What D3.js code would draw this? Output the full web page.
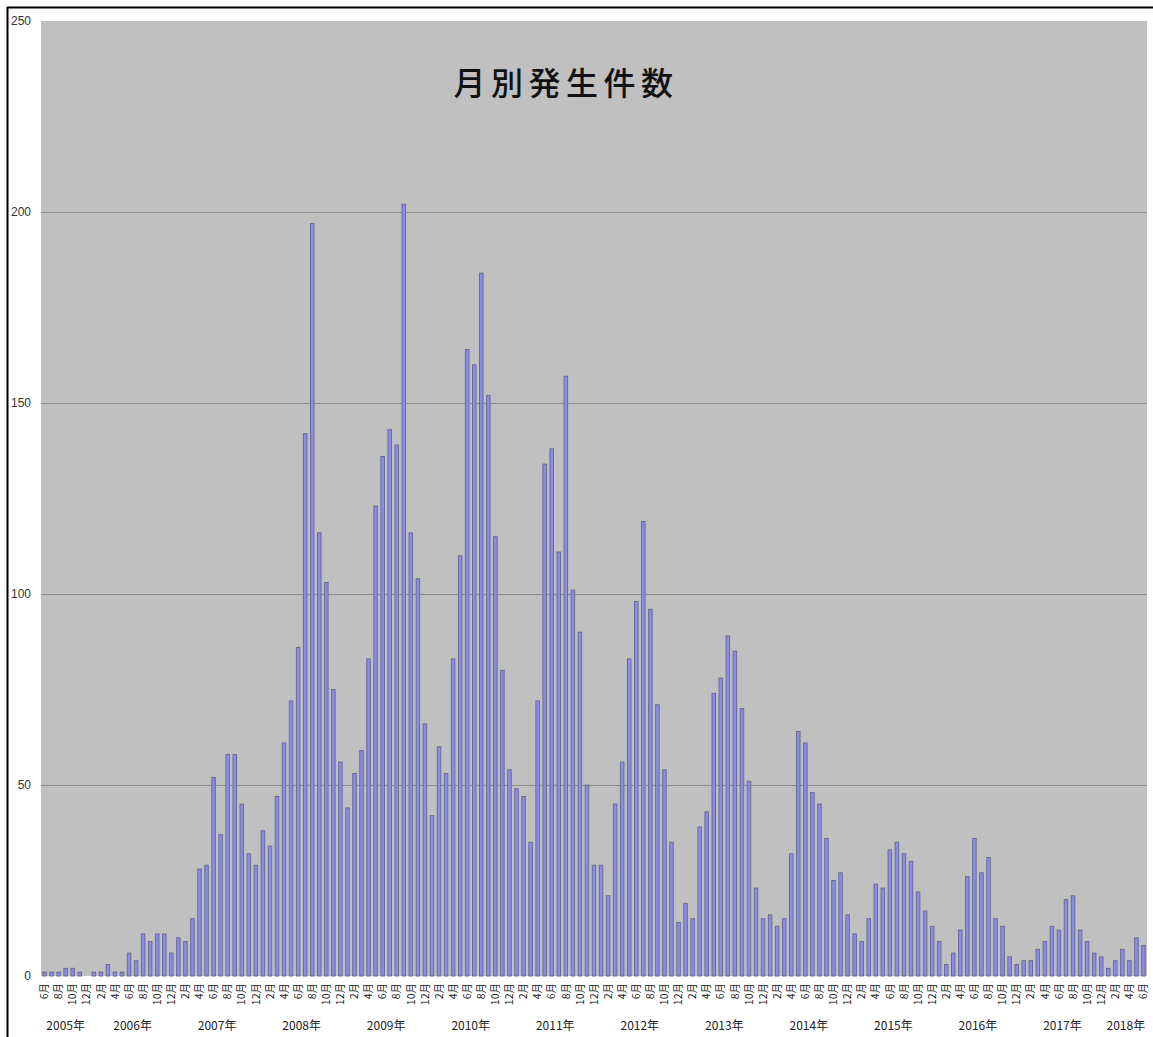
<!DOCTYPE html>
<html>
<head>
<meta charset="utf-8">
<script src="https://cdn.jsdelivr.net/npm/d3@7/dist/d3.min.js"></script>
<style>
  html, body { margin: 0; padding: 0; background: #fff; }
  svg { display: block; }
  text { font-family: "Noto Sans CJK JP", "Noto Sans", sans-serif; }
</style>
</head>
<body>
<svg id="chart" width="1153" height="1037"></svg>
<script>
// ---- Data ----
const title = "月別発生件数";
const startYear = 2005, startMonth = 6;          // first category: 2005年6月
const years = [2005, 2006, 2007, 2008, 2009, 2010, 2011, 2012, 2013, 2014, 2015, 2016, 2017, 2018];
const v2005 = [1, 1, 1, 2, 2, 1, 0];                            // Jun–Dec
const v2006 = [1, 1, 3, 1, 1, 6, 4, 11, 9, 11, 11, 6];
const v2007 = [10, 9, 15, 28, 29, 52, 37, 58, 58, 45, 32, 29];
const v2008 = [38, 34, 47, 61, 72, 86, 142, 197, 116, 103, 75, 56];
const v2009 = [44, 53, 59, 83, 123, 136, 143, 139, 202, 116, 104, 66];
const v2010 = [42, 60, 53, 83, 110, 164, 160, 184, 152, 115, 80, 54];
const v2011 = [49, 47, 35, 72, 134, 138, 111, 157, 101, 90, 50, 29];
const v2012 = [29, 21, 45, 56, 83, 98, 119, 96, 71, 54, 35, 14];
const v2013 = [19, 15, 39, 43, 74, 78, 89, 85, 70, 51, 23, 15];
const v2014 = [16, 13, 15, 32, 64, 61, 48, 45, 36, 25, 27, 16];
const v2015 = [11, 9, 15, 24, 23, 33, 35, 32, 30, 22, 17, 13];
const v2016 = [9, 3, 6, 12, 26, 36, 27, 31, 15, 13, 5, 3];
const v2017 = [4, 4, 7, 9, 13, 12, 20, 21, 12, 9, 6, 5];
const v2018 = [2, 4, 7, 4, 10, 8];                              // Jan–Jun
const yTicks = [0, 50, 100, 150, 200, 250];

// ---- Build category table ----
const valuesByYear = [v2005, v2006, v2007, v2008, v2009, v2010, v2011, v2012, v2013, v2014, v2015, v2016, v2017, v2018];
const data = [];
valuesByYear.forEach((arr, yi) => {
  const firstM = yi === 0 ? startMonth : 1;
  arr.forEach((v, k) => {
    data.push({ key: years[yi] + "-" + (firstM + k), year: years[yi], month: firstM + k, value: v });
  });
});

// ---- Layout ----
const svg = d3.select("#chart");
const plot = { left: 41, right: 1147, top: 21, bottom: 976 };

const x = d3.scaleBand()
  .domain(data.map(d => d.key))
  .range([plot.left, plot.right])
  .paddingInner(0.36)
  .paddingOuter(0.18);

const y = d3.scaleLinear().domain([0, 250]).range([plot.bottom, plot.top]);

// frame lines (black border, top + left)
svg.append("line").attr("x1", 7).attr("x2", 1153).attr("y1", 7.5).attr("y2", 7.5)
  .attr("stroke", "#000").attr("stroke-width", 2);
svg.append("line").attr("x1", 7.5).attr("x2", 7.5).attr("y1", 7).attr("y2", 1037)
  .attr("stroke", "#000").attr("stroke-width", 2);

// plot background
svg.append("rect")
  .attr("x", plot.left).attr("y", plot.top)
  .attr("width", plot.right - plot.left).attr("height", plot.bottom - plot.top)
  .attr("fill", "#c0c0c0");

// gridlines
svg.append("g").selectAll("line")
  .data(yTicks.filter(t => t > 0 && t < 250))
  .join("line")
  .attr("x1", plot.left).attr("x2", plot.right)
  .attr("y1", d => Math.round(y(d)) + 0.5).attr("y2", d => Math.round(y(d)) + 0.5)
  .attr("stroke", "#8a8a8a").attr("stroke-width", 1);

// y axis labels
const yAxis = d3.axisLeft(y).tickValues(yTicks).tickSize(0).tickPadding(0);
const gy = svg.append("g").attr("transform", "translate(31,0)").call(yAxis);
gy.select(".domain").remove();
gy.selectAll("text").attr("font-size", 12).attr("fill", "#333")
  .style("font-family", "'Liberation Sans', 'Noto Sans', sans-serif");

// bars
svg.append("g").selectAll("rect")
  .data(data.filter(d => d.value > 0))
  .join("rect")
  .attr("x", d => x(d.key) + 0.5)
  .attr("y", d => y(d.value))
  .attr("width", x.bandwidth() - 1)
  .attr("height", d => y(0) - y(d.value))
  .attr("fill", "#8c8cee")
  .attr("stroke", "#6a6a90")
  .attr("stroke-width", 1);

// month labels (every 2nd month), rotated
const xAxis = d3.axisBottom(x)
  .tickValues(data.filter((d, i) => i % 2 === 0).map(d => d.key))
  .tickFormat(k => data.find(d => d.key === k).month + "月")
  .tickSize(0);
const gx = svg.append("g").attr("transform", `translate(0,${plot.bottom})`).call(xAxis);
gx.select(".domain").remove();
gx.selectAll("text")
  .attr("font-size", 10.5)
  .attr("fill", "#222")
  .attr("text-anchor", "end")
  .attr("transform", "translate(0,7) rotate(-90)")
  .attr("x", 0).attr("y", 0).attr("dy", "0.35em");

// year labels centered under their months
const yearGroups = d3.groups(data, d => d.year);
svg.append("g").selectAll("text")
  .data(yearGroups)
  .join("text")
  .attr("x", g => (x(g[1][0].key) + x(g[1][g[1].length - 1].key) + x.bandwidth()) / 2)
  .attr("y", 1030)
  .attr("text-anchor", "middle")
  .attr("font-size", 12)
  .attr("fill", "#222")
  .text(g => g[0] + "年");

// title
svg.append("text")
  .attr("x", 563 + 3)
  .attr("y", 81)
  .attr("text-anchor", "middle")
  .attr("dominant-baseline", "central")
  .attr("font-size", 32)
  .attr("font-weight", 500)
  .attr("letter-spacing", 5.5)
  .attr("fill", "#111")
  .text(title);
</script>
</body>
</html>
